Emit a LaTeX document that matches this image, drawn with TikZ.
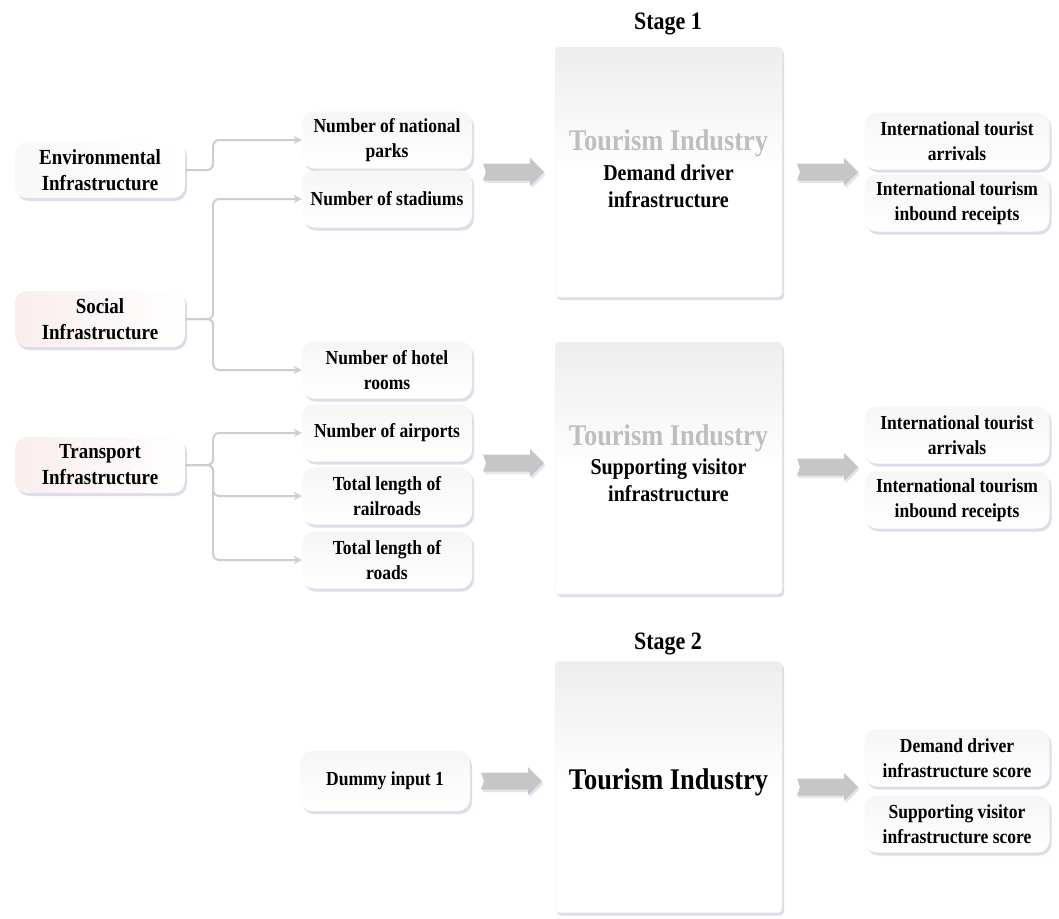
\documentclass[tikz,border=0pt]{standalone}
\usepackage{fontspec}
\setmainfont[FakeStretch=0.88]{Liberation Serif}
\usetikzlibrary{shadows,arrows.meta}
\definecolor{lineg}{RGB}{205,205,205}
\definecolor{fatg}{RGB}{198,198,198}
\definecolor{shad}{RGB}{180,190,212}
\definecolor{pinkt}{RGB}{250,237,237}
\definecolor{grayt}{RGB}{190,190,190}
\tikzset{
  softshadow/.style={drop shadow={shadow xshift=2pt, shadow yshift=-3pt, fill=shad, opacity=0.5}},
  lbox/.style={rounded corners=12pt, minimum width=170pt, minimum height=56pt, align=center,
    font=\fontsize{21.5}{26}\selectfont\bfseries, softshadow, left color=pinkt, right color=white, inner sep=0pt},
  mbox/.style={rounded corners=12pt, minimum width=170pt, minimum height=57pt, align=center,
    font=\fontsize{19.9}{24.5}\selectfont\bfseries, softshadow, top color=gray!7, bottom color=white, inner sep=0pt},
  rbox/.style={mbox, minimum width=185pt},
  bigbox/.style={rounded corners=4pt, minimum width=227pt, softshadow, top color=gray!14, bottom color=white, middle color=white, draw=gray!10, line width=0.5pt},
  conn/.style={draw=lineg, line width=2pt, rounded corners=6pt, -{Stealth[length=8pt,width=8pt]}},
  stagelbl/.style={font=\fontsize{25}{28}\selectfont\bfseries},
  graytitle/.style={font=\fontsize{30}{32}\selectfont\bfseries, text=grayt},
  blacktitle/.style={font=\fontsize{30}{32}\selectfont\bfseries},
  boxtext/.style={font=\fontsize{22.7}{27}\selectfont\bfseries, align=center},
  fatarrow/.pic={
    \fill[shad, opacity=0.4, shift={(1.5,2.5)}] (-30,-8.5) -- (17,-8.5) -- (17,-14) -- (31,0) -- (17,14) -- (17,8.5) -- (-30,8.5) -- (-27,0) -- cycle;
    \fill[fatg] (-30,-8.5) -- (17,-8.5) -- (17,-14) -- (31,0) -- (17,14) -- (17,8.5) -- (-30,8.5) -- (-27,0) -- cycle;
  },
}
\begin{document}
\begin{tikzpicture}[x=1pt,y=-1pt]
\useasboundingbox[fill=white] (0,0) rectangle (1059,918);

% stage labels
\node[stagelbl] (st1) at (668,24) {Stage 1};
\node[stagelbl] (st2) at (668,644) {Stage 2};

% big boxes
\node[bigbox, minimum height=250pt] (b1) at (668.5,172) {};
\node[bigbox, minimum height=252pt] (b2) at (668.5,468) {};
\node[bigbox, minimum height=251pt] (b3) at (668.5,787) {};
\node[graytitle] (t1) at (668.5,143) {Tourism Industry};
\node[boxtext] (d1) at (668.5,186) {Demand driver\\infrastructure};
\node[graytitle] (t2) at (668.5,438) {Tourism Industry};
\node[boxtext] (d2) at (668.5,480.5) {Supporting visitor\\infrastructure};
\node[blacktitle] (t3) at (668.5,782) {Tourism Industry};

% left boxes
\node[lbox, left color=gray!5] (env) at (100,170) {Environmental\\Infrastructure};
\node[lbox] (soc) at (100,319) {Social\\Infrastructure};
\node[lbox] (tra) at (100,465) {Transport\\Infrastructure};

% middle boxes
\node[mbox] (parks) at (387,140) {Number of national\\parks};
\node[mbox] (stad) at (387,199) {Number of stadiums};
\node[mbox] (hotel) at (387,370) {Number of hotel\\rooms};
\node[mbox] (air) at (387,433) {Number of airports};
\node[mbox] (rail) at (387,496) {Total length of\\railroads};
\node[mbox] (roads) at (387,560) {Total length of\\roads};
\node[mbox, minimum height=60pt] (dummy) at (385,781) {Dummy input 1};

% right boxes
\node[rbox] (arr1) at (957,141) {International tourist\\arrivals};
\node[rbox] (rec1) at (957,203) {International tourism\\inbound receipts};
\node[rbox] (arr2) at (957,435) {International tourist\\arrivals};
\node[rbox] (rec2) at (957,500) {International tourism\\inbound receipts};
\node[rbox] (dds) at (957,758) {Demand driver\\infrastructure score};
\node[rbox] (svs) at (957,824) {Supporting visitor\\infrastructure score};

% fat arrows
\pic (fa1) at (513,172) {fatarrow};
\pic (fb1) at (827,172) {fatarrow};
\pic (fa2) at (513,463) {fatarrow};
\pic (fb2) at (827,467) {fatarrow};
\pic (fa3) at (511,781) {fatarrow};
\pic (fb3) at (827,787) {fatarrow};

% connectors
\draw[conn] (env.east) -- ++(28,0) |- (parks.west);
\draw[conn] (soc.east) -- ++(28,0) |- (stad.west);
\draw[conn] (soc.east) -- ++(28,0) |- (hotel.west);
\draw[conn] (tra.east) -- ++(28,0) |- (air.west);
\draw[conn] (tra.east) -- ++(28,0) |- (rail.west);
\draw[conn] (tra.east) -- ++(28,0) |- (roads.west);
\end{tikzpicture}
\end{document}
